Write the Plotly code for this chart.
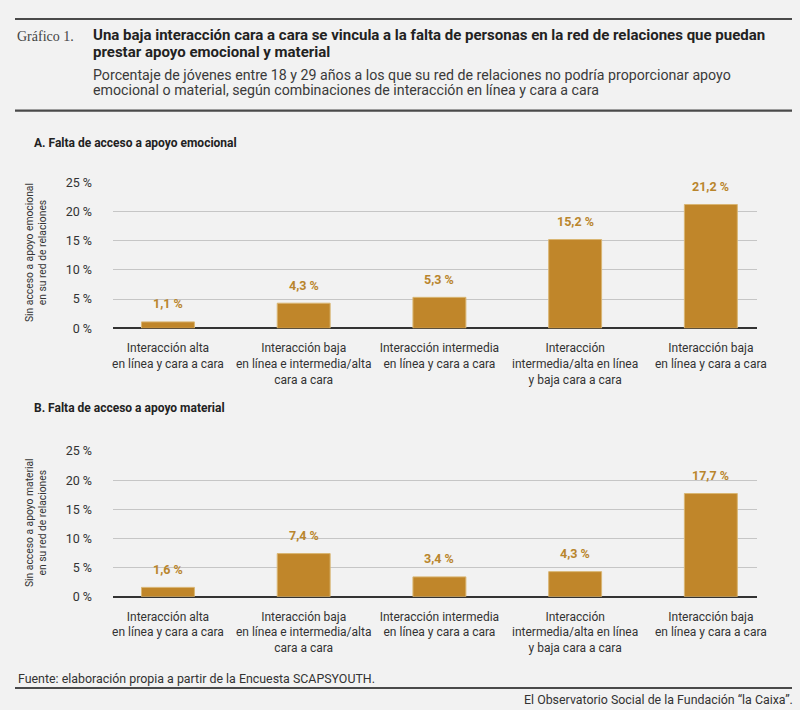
import plotly.graph_objects as go

# --- data ---
categorias = [
    "Interacción alta<br>en línea y cara a cara",
    "Interacción baja<br>en línea e intermedia/alta<br>cara a cara",
    "Interacción intermedia<br>en línea y cara a cara",
    "Interacción<br>intermedia/alta en línea<br>y baja cara a cara",
    "Interacción baja<br>en línea y cara a cara",
]
falta_emocional = [1.1, 4.3, 5.3, 15.2, 21.2]
falta_material = [1.6, 7.4, 3.4, 4.3, 17.7]
ticks_y = [0, 5, 10, 15, 20, 25]

BG = "#f2f2f2"
BAR = "#c0862a"
BAR_EDGE = "#d9b673"
LABEL = "#b9852c"
TXT = "#333333"
FONT = "Roboto, Arial, sans-serif"

W, H = 800, 710


def py(px):
    # pixel row -> paper y
    return 1 - px / H


def px_x(px):
    return px / W


def fmt(v):
    return f"{v:.1f}".replace(".", ",") + " %"


fig = go.Figure()

panels = [
    ("x", "y", falta_emocional),
    ("x2", "y2", falta_material),
]

for xa, ya, vals in panels:
    fig.add_trace(go.Bar(
        x=categorias, y=vals, xaxis=xa, yaxis=ya,
        width=0.39,
        marker=dict(color=BAR, line=dict(color=BAR_EDGE, width=1)),
        hoverinfo="skip", showlegend=False,
    ))
    for c, v in zip(categorias, vals):
        fig.add_annotation(
            x=c, y=v, xref=xa, yref=ya, text=fmt(v), showarrow=False,
            yanchor="middle", yshift=18,
            font=dict(family=FONT, size=12.5, color=LABEL, weight="bold"),
        )

axis_common_x = dict(
    range=[-0.405, 4.34], showgrid=False, zeroline=False, showline=False,
    ticks="", tickfont=dict(family=FONT, size=12, color=TXT),
    ticklabelstandoff=11, fixedrange=True, automargin=False,
)
axis_common_y = dict(
    range=[0, 25], tickvals=ticks_y, ticktext=[f"{t} %" for t in ticks_y],
    showgrid=True, gridcolor="#c6c6c6", gridwidth=1,
    zeroline=True, zerolinecolor="#333333", zerolinewidth=1.5,
    showline=False, ticks="", ticklabelstandoff=20,
    tickfont=dict(family=FONT, size=12.5, color=TXT), fixedrange=True,
    automargin=False,
)

fig.update_layout(
    width=W, height=H, autosize=False,
    margin=dict(l=0, r=0, t=0, b=0, pad=0),
    paper_bgcolor=BG, plot_bgcolor=BG,
    xaxis=dict(domain=[px_x(113), px_x(757)], anchor="y", **axis_common_x),
    yaxis=dict(domain=[py(328.3), py(182.3)], anchor="x", **axis_common_y),
    xaxis2=dict(domain=[px_x(113), px_x(757)], anchor="y2", **axis_common_x),
    yaxis2=dict(domain=[py(596.7), py(451.0)], anchor="x2", **axis_common_y),
)

# horizontal rules
for yy in [19, 110.7, 688]:
    fig.add_shape(type="line", xref="paper", yref="paper",
                  x0=px_x(15), x1=px_x(792), y0=py(yy), y1=py(yy),
                  line=dict(color="#4a4a4a", width=2.2))


def txt(text, x, y, size, color=TXT, bold=False, family=FONT, xanchor="left", angle=0):
    fig.add_annotation(
        text=text, x=px_x(x), y=py(y), xref="paper", yref="paper",
        showarrow=False, xanchor=xanchor, yanchor="middle", align="center" if angle else "left",
        textangle=angle,
        font=dict(family=family, size=size, color=color, weight="bold" if bold else "normal"),
    )


txt("Gráfico 1.", 15, 36, 14, color="#444444", family="Liberation Serif, DejaVu Serif, serif")
txt("Una baja interacción cara a cara se vincula a la falta de personas en la red de relaciones que puedan",
    91, 35, 15, color="#222222", bold=True)
txt("prestar apoyo emocional y material", 91, 52, 15, color="#222222", bold=True)
txt("Porcentaje de jóvenes entre 18 y 29 años a los que su red de relaciones no podría proporcionar apoyo",
    91, 75, 14.2, color="#3a3a3a")
txt("emocional o material, según combinaciones de interacción en línea y cara a cara",
    91, 90, 14.2, color="#3a3a3a")

txt("A. Falta de acceso a apoyo emocional", 32, 143, 12, color="#222222", bold=True)
txt("B. Falta de acceso a apoyo material", 32, 408, 12, color="#222222", bold=True)

txt("Sin acceso a apoyo emocional<br>en su red de relaciones", 36, 253, 10.3,
    xanchor="center", angle=-90)
txt("Sin acceso a apoyo material<br>en su red de relaciones", 36, 523, 10.3,
    xanchor="center", angle=-90)

txt("Fuente: elaboración propia a partir de la Encuesta SCAPSYOUTH.", 16, 678, 12.4)
txt("El Observatorio Social de la Fundación “la Caixa”.", 795, 699, 12.4, xanchor="right")

fig.write_html(
    "out.html",
    config={"displayModeBar": False},
    post_script="document.body.style.margin='0';document.body.style.overflow='hidden';",
)
